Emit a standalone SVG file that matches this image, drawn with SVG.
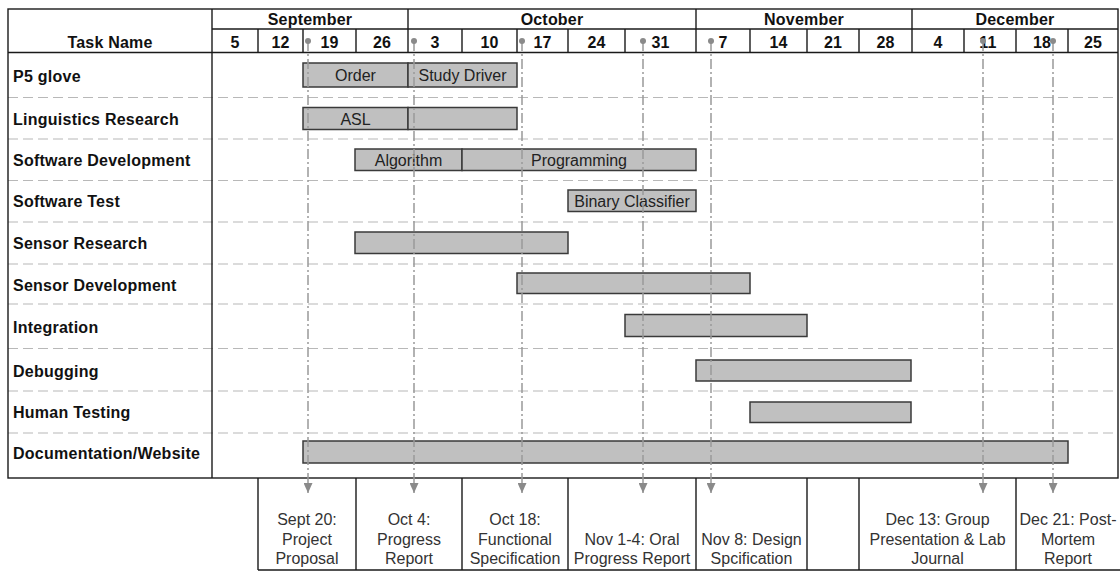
<svg xmlns="http://www.w3.org/2000/svg" width="1120" height="571" viewBox="0 0 1120 571">
<defs>
<style>
.bg{fill:#ffffff}
.frame{fill:none;stroke:#1a1a1a;stroke-width:1.4}
.grid{stroke:#b8b8b8;stroke-width:1.2;stroke-dasharray:10 5;fill:none}
.hd{font-family:"Liberation Sans",Arial,sans-serif;font-size:16px;font-weight:bold;fill:#111;text-anchor:middle;letter-spacing:0.2px}
.task{font-family:"Liberation Sans",Arial,sans-serif;font-size:16px;font-weight:bold;fill:#111;letter-spacing:0.25px}
.bar{fill:#c0c0c0;stroke:#3a3a3a;stroke-width:1.5}
.bt{font-family:"Liberation Sans",Arial,sans-serif;font-size:16px;fill:#222;text-anchor:middle}
.ms{stroke:#999;stroke-width:1.5;stroke-dasharray:10 3 2 3;fill:none}
.dot{fill:#8a8a8a}
.lbl{font-family:"Liberation Sans",Arial,sans-serif;font-size:16px;fill:#333;text-anchor:middle}
</style>
<marker id="arr" markerUnits="userSpaceOnUse" markerWidth="10" markerHeight="9" refX="10" refY="4.5" orient="auto">
<path d="M0,0 L10,4.5 L0,9 z" fill="#8a8a8a"/>
</marker>
</defs>
<rect class="bg" x="0" y="0" width="1120" height="571"/>

<g id="grid">
<line class="grid" x1="8" y1="97.5" x2="1118" y2="97.5"/>
<line class="grid" x1="8" y1="139" x2="1118" y2="139"/>
<line class="grid" x1="8" y1="180.5" x2="1118" y2="180.5"/>
<line class="grid" x1="8" y1="222" x2="1118" y2="222"/>
<line class="grid" x1="8" y1="264" x2="1118" y2="264"/>
<line class="grid" x1="8" y1="304" x2="1118" y2="304"/>
<line class="grid" x1="8" y1="348.5" x2="1118" y2="348.5"/>
<line class="grid" x1="8" y1="391" x2="1118" y2="391"/>
<line class="grid" x1="8" y1="433" x2="1118" y2="433"/>
</g>

<g id="header">
<rect class="frame" x="8" y="9" width="1110" height="469"/>
<line class="frame" x1="212" y1="9" x2="212" y2="478"/>
<line class="frame" x1="212" y1="29" x2="1118" y2="29"/>
<line class="frame" x1="8" y1="52.5" x2="1118" y2="52.5"/>
<line class="frame" x1="408" y1="9" x2="408" y2="52.5"/>
<line class="frame" x1="696" y1="9" x2="696" y2="52.5"/>
<line class="frame" x1="912" y1="9" x2="912" y2="52.5"/>
<path class="frame" d="M258,29V52.5M303,29V52.5M356,29V52.5M462,29V52.5M517,29V52.5M568,29V52.5M625,29V52.5M750,29V52.5M807,29V52.5M859,29V52.5M964,29V52.5M1016,29V52.5M1068,29V52.5"/>
<text class="hd" x="310" y="25">September</text>
<text class="hd" x="552" y="25">October</text>
<text class="hd" x="804" y="25">November</text>
<text class="hd" x="1015" y="25">December</text>
<text class="hd" x="110" y="48">Task Name</text>
<text class="hd" x="235" y="48">5</text>
<text class="hd" x="280.5" y="48">12</text>
<text class="hd" x="329.5" y="48">19</text>
<text class="hd" x="382" y="48">26</text>
<text class="hd" x="435" y="48">3</text>
<text class="hd" x="489.5" y="48">10</text>
<text class="hd" x="542.5" y="48">17</text>
<text class="hd" x="596.5" y="48">24</text>
<text class="hd" x="660.5" y="48">31</text>
<text class="hd" x="723" y="48">7</text>
<text class="hd" x="778.5" y="48">14</text>
<text class="hd" x="833" y="48">21</text>
<text class="hd" x="885.5" y="48">28</text>
<text class="hd" x="938" y="48">4</text>
<text class="hd" x="988" y="48">11</text>
<text class="hd" x="1042" y="48">18</text>
<text class="hd" x="1093" y="48">25</text>
</g>

<g id="task-p5-glove">
<text class="task" x="13" y="82">P5 glove</text>
<rect class="bar" x="303" y="63" width="105" height="24"/>
<rect class="bar" x="408" y="63" width="109" height="24"/>
<text class="bt" x="355.5" y="81">Order</text>
<text class="bt" x="462.5" y="81">Study Driver</text>
</g>
<g id="task-linguistics">
<text class="task" x="13" y="125">Linguistics Research</text>
<rect class="bar" x="303" y="107.5" width="105" height="22"/>
<rect class="bar" x="408" y="107.5" width="109" height="22"/>
<text class="bt" x="355.5" y="124.5">ASL</text>
</g>
<g id="task-software-dev">
<text class="task" x="13" y="166">Software Development</text>
<rect class="bar" x="355" y="149" width="107" height="21.5"/>
<rect class="bar" x="462" y="149" width="234" height="21.5"/>
<text class="bt" x="408.5" y="165.5">Algorithm</text>
<text class="bt" x="579" y="165.5">Programming</text>
</g>
<g id="task-software-test">
<text class="task" x="13" y="207">Software Test</text>
<rect class="bar" x="568" y="190" width="128" height="21.5"/>
<text class="bt" x="632" y="206.5">Binary Classifier</text>
</g>
<g id="task-sensor-research">
<text class="task" x="13" y="249">Sensor Research</text>
<rect class="bar" x="355" y="232" width="213" height="21.5"/>
</g>
<g id="task-sensor-dev">
<text class="task" x="13" y="290.5">Sensor Development</text>
<rect class="bar" x="517" y="273" width="233" height="20.5"/>
</g>
<g id="task-integration">
<text class="task" x="13" y="333">Integration</text>
<rect class="bar" x="625" y="314.5" width="182" height="22"/>
</g>
<g id="task-debugging">
<text class="task" x="13" y="376.5">Debugging</text>
<rect class="bar" x="696" y="360" width="215" height="21"/>
</g>
<g id="task-human-testing">
<text class="task" x="13" y="417.5">Human Testing</text>
<rect class="bar" x="750" y="402" width="161" height="20.5"/>
</g>
<g id="task-documentation">
<text class="task" x="13" y="459">Documentation/Website</text>
<rect class="bar" x="303" y="441" width="765" height="22"/>
</g>

<g id="connectors">
<line class="ms" x1="308" y1="41" x2="308" y2="493" marker-end="url(#arr)"/>
<line class="ms" x1="414" y1="41" x2="414" y2="493" marker-end="url(#arr)"/>
<line class="ms" x1="522" y1="41" x2="522" y2="493" marker-end="url(#arr)"/>
<line class="ms" x1="643" y1="41" x2="643" y2="493" marker-end="url(#arr)"/>
<line class="ms" x1="711" y1="41" x2="711" y2="493" marker-end="url(#arr)"/>
<line class="ms" x1="983" y1="41" x2="983" y2="493" marker-end="url(#arr)"/>
<line class="ms" x1="1053" y1="41" x2="1053" y2="493" marker-end="url(#arr)"/>
<circle class="dot" cx="308" cy="41" r="3"/>
<circle class="dot" cx="414" cy="41" r="3"/>
<circle class="dot" cx="522" cy="41" r="3"/>
<circle class="dot" cx="643" cy="41" r="3"/>
<circle class="dot" cx="711" cy="41" r="3"/>
<circle class="dot" cx="983" cy="41" r="3"/>
<circle class="dot" cx="1053" cy="41" r="3"/>
</g>

<g id="milestone-boxes">
<path class="frame" d="M258,478V570M356,478V570M462,478V570M568,478V570M696,478V570M807,478V570M859,478V570M1016,478V570M258,570H1120"/>
</g>
<g id="ms-sept20">
<text class="lbl" x="307" y="525">Sept 20:</text>
<text class="lbl" x="307" y="544.5">Project</text>
<text class="lbl" x="307" y="564">Proposal</text>
</g>
<g id="ms-oct4">
<text class="lbl" x="409" y="525">Oct 4:</text>
<text class="lbl" x="409" y="544.5">Progress</text>
<text class="lbl" x="409" y="564">Report</text>
</g>
<g id="ms-oct18">
<text class="lbl" x="515" y="525">Oct 18:</text>
<text class="lbl" x="515" y="544.5">Functional</text>
<text class="lbl" x="515" y="564">Specification</text>
</g>
<g id="ms-nov1">
<text class="lbl" x="632" y="544.5">Nov 1-4: Oral</text>
<text class="lbl" x="632" y="564">Progress Report</text>
</g>
<g id="ms-nov8">
<text class="lbl" x="751.5" y="544.5">Nov 8: Design</text>
<text class="lbl" x="751.5" y="564">Spcification</text>
</g>
<g id="ms-dec13">
<text class="lbl" x="937.5" y="525">Dec 13: Group</text>
<text class="lbl" x="937.5" y="544.5">Presentation &amp; Lab</text>
<text class="lbl" x="937.5" y="564">Journal</text>
</g>
<g id="ms-dec21">
<text class="lbl" x="1068" y="525">Dec 21: Post-</text>
<text class="lbl" x="1068" y="544.5">Mortem</text>
<text class="lbl" x="1068" y="564">Report</text>
</g>
</svg>
